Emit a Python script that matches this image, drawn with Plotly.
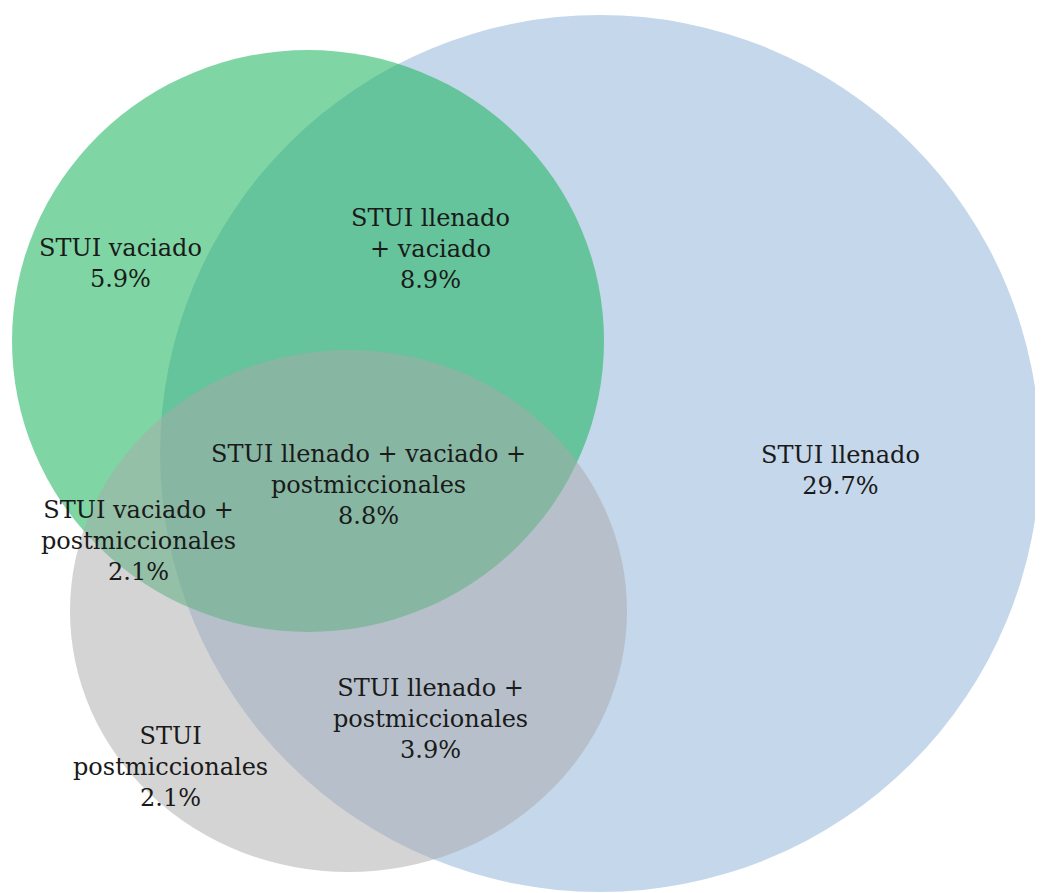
import plotly.graph_objects as go

# sets of the Venn diagram
sets = ["STUI llenado", "STUI vaciado", "STUI postmiccionales"]

# regions: label text and share of patients (%)
region_labels = [
    "STUI vaciado",
    "STUI llenado<br>+ vaciado",
    "STUI llenado + vaciado +<br>postmiccionales",
    "STUI vaciado +<br>postmiccionales",
    "STUI llenado",
    "STUI llenado +<br>postmiccionales",
    "STUI<br>postmiccionales",
]
region_pcts = [5.9, 8.9, 8.8, 2.1, 29.7, 3.9, 2.1]

# geometry (pixel-like coordinates of the canvas)
circle_box = {
    "STUI llenado": (160, 15, 1040, 892),
    "STUI vaciado": (12, 50, 604, 632),
    "STUI postmiccionales": (70, 350, 627, 872),
}
circle_style = {
    "STUI llenado": ("rgb(197,215,234)", 1.0),
    "STUI vaciado": ("rgb(22,180,90)", 0.55),
    "STUI postmiccionales": ("rgb(169,169,169)", 0.5),
}
label_x = [120, 430, 368, 138, 840, 430, 170]
label_y = [263, 249, 485, 541, 470, 719, 767]

# page body has an 8px margin, so the canvas starts at 8
PAD = 8

fig = go.Figure()

for s in sets:
    x0, y0, x1, y1 = circle_box[s]
    color, op = circle_style[s]
    fig.add_shape(type="circle", xref="x", yref="y",
                  x0=x0, y0=y0, x1=x1, y1=y1,
                  fillcolor=color, opacity=op, line=dict(width=0))

for lab, pct, x, y in zip(region_labels, region_pcts, label_x, label_y):
    fig.add_annotation(x=x, y=y, xref="x", yref="y",
                       text=f"{lab}<br>{pct:.1f}%", showarrow=False, align="center",
                       font=dict(family="DejaVu Serif", size=24, color="#1a1a1a"))

fig.update_xaxes(range=[PAD, 1043], visible=False, showgrid=False, zeroline=False)
fig.update_yaxes(range=[893, PAD], visible=False, showgrid=False, zeroline=False)

fig.update_layout(
    width=1043 - PAD, height=893 - PAD,
    margin=dict(l=0, r=0, t=0, b=0),
    plot_bgcolor="white", paper_bgcolor="white",
    showlegend=False,
)

fig.write_html("out.html")
